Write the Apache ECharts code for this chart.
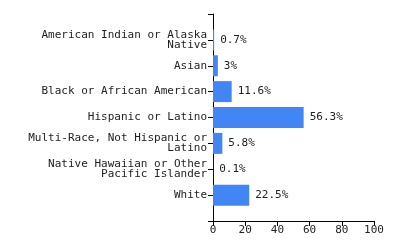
<!DOCTYPE html>
<html>
<head>
<meta charset="utf-8">
<script src="https://cdn.jsdelivr.net/npm/echarts@6/dist/echarts.min.js"></script>
<style>
  html, body { margin: 0; padding: 0; background: #fff; }
  #chart { width: 400px; height: 250px; }
</style>
</head>
<body>
<div id="chart"></div>
<script>
// 类别（上下各留一个空位，让刻度落在边界上）
let categories = [
  '',
  'American Indian or Alaska\nNative',
  'Asian',
  'Black or African American',
  'Hispanic or Latino',
  'Multi-Race, Not Hispanic or\nLatino',
  'Native Hawaiian or Other\nPacific Islander',
  'White',
  ''
];
let values = [null, 0.7, 3, 11.6, 56.3, 5.8, 0.1, 22.5, null];
let xTicks = [0, 20, 40, 60, 80, 100];

let font = 'DejaVu Sans Mono';
let textColor = '#222';

let myChart = echarts.init(document.getElementById('chart'));
myChart.setOption({
  animation: false,
  grid: { left: 213, right: 26, top: 14, bottom: 29 },
  xAxis: {
    type: 'value',
    min: xTicks[0],
    max: xTicks[xTicks.length - 1],
    interval: 20,
    axisLine: { show: true, lineStyle: { color: '#000', width: 1 } },
    axisTick: { show: true, length: 5, lineStyle: { color: '#000' } },
    axisLabel: { color: textColor, fontFamily: font, fontSize: 11, margin: 4 },
    splitLine: { show: false }
  },
  yAxis: {
    type: 'category',
    data: categories,
    inverse: true,
    boundaryGap: false,
    axisLine: { show: true, lineStyle: { color: '#000', width: 1 } },
    axisTick: { show: true, length: 5, interval: 0, lineStyle: { color: '#000' } },
    axisLabel: {
      color: textColor, fontFamily: font, fontSize: 11, lineHeight: 10,
      margin: 6, interval: 0, align: 'right'
    }
  },
  series: [{
    type: 'bar',
    data: values,
    barWidth: 21,
    itemStyle: { color: '#4285f4' },
    label: {
      show: true,
      position: 'right',
      distance: 6,
      color: textColor,
      fontFamily: font,
      fontSize: 11,
      formatter: function (p) { return p.value == null ? '' : p.value + '%'; }
    }
  }]
});
</script>
</body>
</html>
